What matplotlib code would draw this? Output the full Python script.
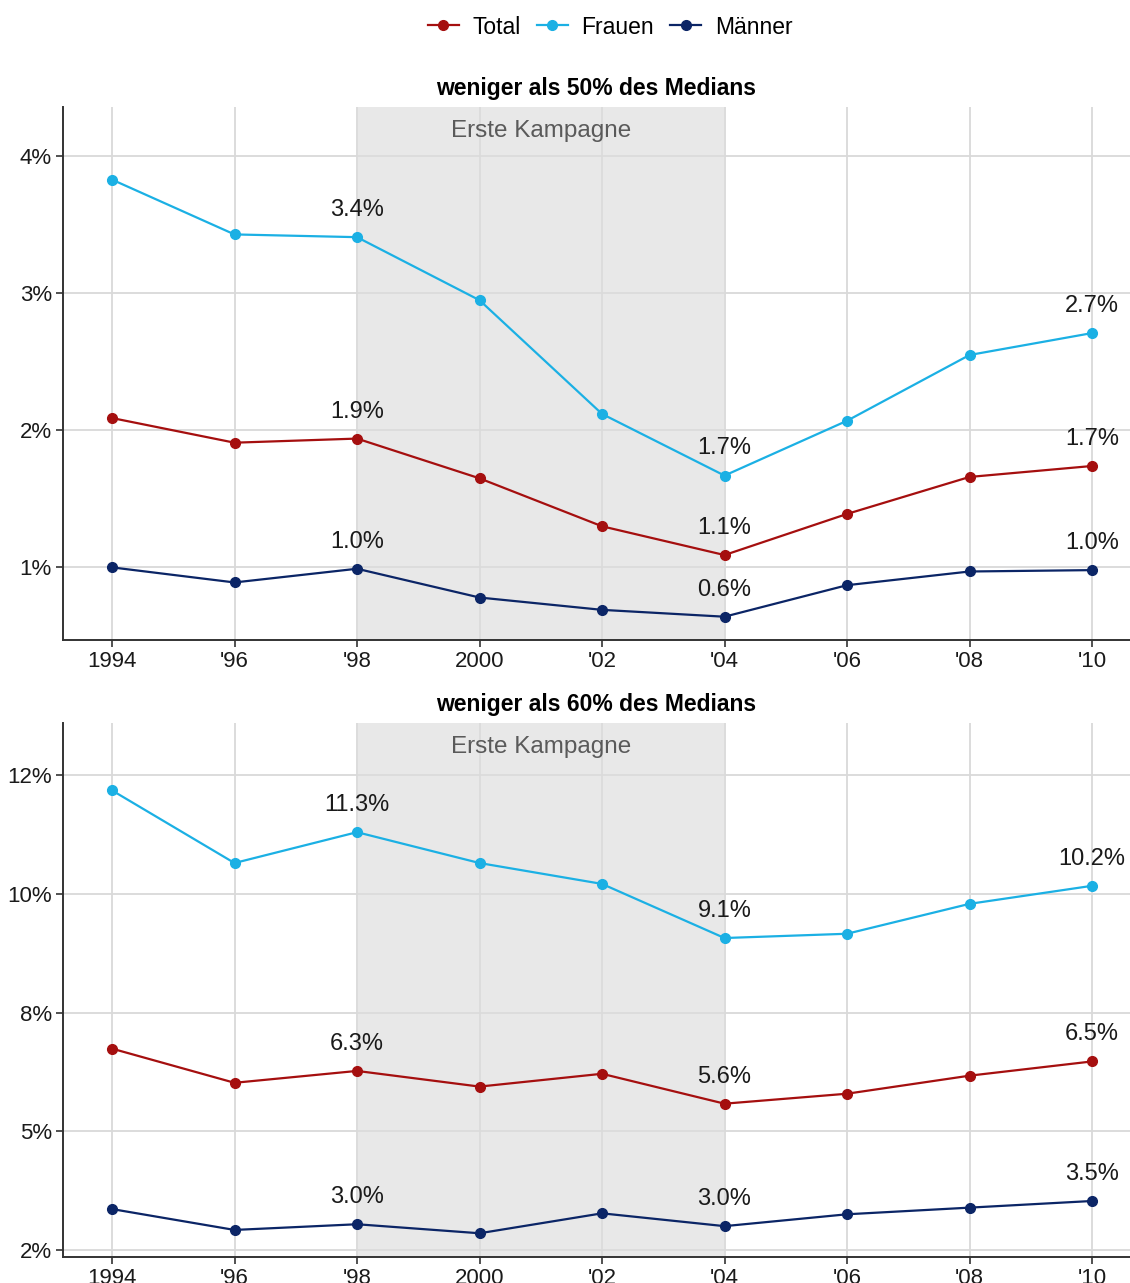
import matplotlib
matplotlib.use("Agg")
import matplotlib.pyplot as plt
from matplotlib.lines import Line2D

plt.rcParams['font.family'] = ['Liberation Sans', 'DejaVu Sans']

years = [1994, 1996, 1998, 2000, 2002, 2004, 2006, 2008, 2010]
year_labels = ['1994', "'96", "'98", '2000', "'02", "'04", "'06", "'08", "'10"]
label_years = [1998, 2004, 2010]

series_names = ['Total', 'Frauen', 'Männer']
colors = {'Total': '#A50F0F', 'Frauen': '#1BB0E4', 'Männer': '#0B2566'}

# weniger als 50% des Medians
p50_total = [2.09, 1.91, 1.94, 1.65, 1.30, 1.09, 1.39, 1.66, 1.74]
p50_frauen = [3.83, 3.43, 3.41, 2.95, 2.12, 1.67, 2.07, 2.55, 2.71]
p50_maenner = [1.00, 0.89, 0.99, 0.78, 0.69, 0.64, 0.87, 0.97, 0.98]

# weniger als 60% des Medians
p60_total = [6.74, 6.02, 6.27, 5.94, 6.21, 5.58, 5.79, 6.17, 6.47]
p60_frauen = [12.18, 10.65, 11.30, 10.65, 10.21, 9.07, 9.16, 9.79, 10.17]
p60_maenner = [3.36, 2.92, 3.04, 2.85, 3.27, 3.00, 3.25, 3.39, 3.53]

panel_titles = ['weniger als 50% des Medians', 'weniger als 60% des Medians']
yticks_top = [1, 2, 3, 4]
ytick_labels_top = ['1%', '2%', '3%', '4%']
yticks_bottom = [2.5, 5, 7.5, 10, 12.5]
ytick_labels_bottom = ['2%', '5%', '8%', '10%', '12%']
campaign = (1998, 2004)
campaign_label = 'Erste Kampagne'

W, H = 1130, 1283
fig = plt.figure(figsize=(W / 100, H / 100), dpi=100)

def frac(l, t, r, b):
    return [l / W, 1 - b / H, (r - l) / W, (b - t) / H]

ax1 = fig.add_axes(frac(63, 107, 1130, 640))
ax2 = fig.add_axes(frac(63, 723, 1130, 1257))

panels = [
    (ax1, {'Total': p50_total, 'Frauen': p50_frauen, 'Männer': p50_maenner},
     (0.47, 4.36), yticks_top, ytick_labels_top),
    (ax2, {'Total': p60_total, 'Frauen': p60_frauen, 'Männer': p60_maenner},
     (2.35, 13.6), yticks_bottom, ytick_labels_bottom),
]

for i, (ax, data, ylim, yt, ytl) in enumerate(panels):
    ax.set_xlim(1993.2, 2010.62)
    ax.set_ylim(*ylim)
    ax.set_axisbelow(True)
    ax.grid(True, color='#D9D9D9', linewidth=1.3)
    ax.axvspan(campaign[0], campaign[1], color='#DCDCDC', alpha=0.65, zorder=1, lw=0)
    ax.text(0.5 * (campaign[0] + campaign[1]), 0.955, campaign_label,
            transform=ax.get_xaxis_transform(), ha='center', va='center',
            fontsize=17.5, color='#5A5A5A', zorder=3)
    for name in series_names:
        vals = data[name]
        ax.plot(years, vals, color=colors[name], lw=1.6, marker='o', ms=7, zorder=4)
        for x, v in zip(years, vals):
            if x in label_years:
                ax.annotate(f"{v:.1f}%", (x, v), xytext=(0, 19.5), textcoords='offset points',
                            ha='center', va='center', fontsize=17, color='#1A1A1A', zorder=5)
    ax.set_xticks(years)
    ax.set_xticklabels(year_labels)
    ax.set_yticks(yt)
    ax.set_yticklabels(ytl)
    ax.tick_params(axis='both', labelsize=16, colors='#333333', labelcolor='#1A1A1A',
                   length=5, width=1.2, pad=3)
    for s in ['top', 'right']:
        ax.spines[s].set_visible(False)
    for s in ['left', 'bottom']:
        ax.spines[s].set_color('#333333')
        ax.spines[s].set_linewidth(1.4)
    ax.set_title(panel_titles[i], fontsize=16.5, fontweight='bold', pad=9)

handles = [Line2D([0], [0], color=colors[n], lw=1.6, marker='o', ms=7) for n in series_names]
fig.legend(handles, series_names, loc='center', bbox_to_anchor=(0.54, 1 - 27 / H),
           ncol=3, frameon=False, fontsize=16.5, handlelength=1.35, columnspacing=0.7,
           handletextpad=0.6)

fig.savefig('out.png', dpi=100)
